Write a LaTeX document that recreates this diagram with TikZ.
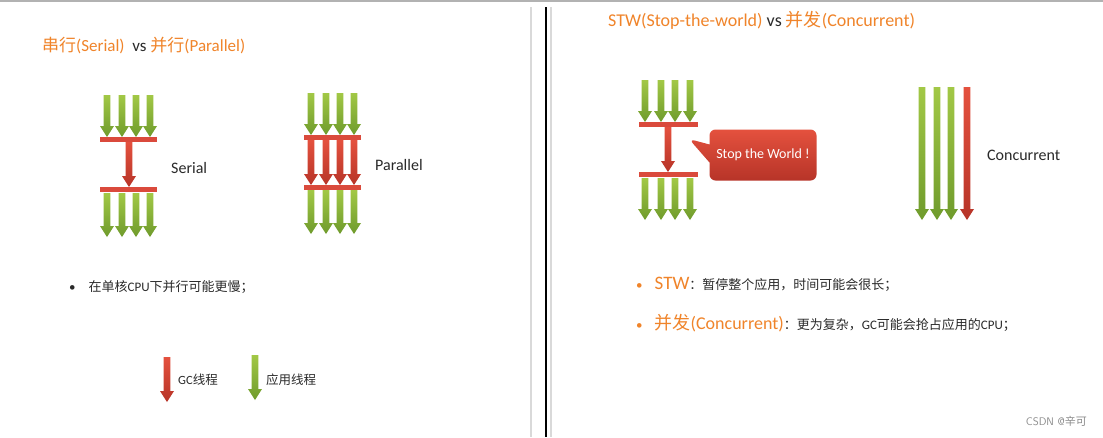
\documentclass[tikz,border=0pt]{standalone}
\usepackage{fontspec}
\setmainfont{Carlito}
\newfontfamily\cjk{Noto Sans CJK SC}
\usetikzlibrary{shapes.callouts}

\definecolor{titleorange}{HTML}{F0842A}
\definecolor{bodytext}{HTML}{2A2A2A}
\definecolor{appgreenA}{HTML}{A2C846}
\definecolor{appgreenB}{HTML}{6F9B2C}
\definecolor{gcredA}{HTML}{E4513E}
\definecolor{gcredB}{HTML}{B73428}
\definecolor{barred}{HTML}{DA4A3C}

\tikzset{
  every node/.style={inner sep=0pt, text=bodytext},
  pics/appline/.style={code={
    \shade[top color=appgreenA, bottom color=appgreenB]
      (-3.4,0) -- (3.4,0) -- (3.4,#1-11) -- (7,#1-11) -- (0,#1)
      -- (-7,#1-11) -- (-3.4,#1-11) -- cycle;}},
  pics/gcline/.style={code={
    \shade[top color=gcredA, bottom color=gcredB]
      (-3.4,0) -- (3.4,0) -- (3.4,#1-11) -- (7,#1-11) -- (0,#1)
      -- (-7,#1-11) -- (-3.4,#1-11) -- cycle;}},
  gcbar/.style={draw=barred, line width=5pt},
  label/.style={anchor=west, font=\fontsize{16}{19}\selectfont},
  heading/.style={anchor=west, text=titleorange, font=\fontsize{17}{20}\selectfont},
  bullet/.style={anchor=west, font=\fontsize{13}{16}\selectfont},
  stopbox/.style={rectangle callout, rounded corners=6pt, minimum width=107pt,
    minimum height=51pt, top color=gcredA, bottom color=gcredB,
    callout pointer width=18pt, text=white, font=\fontsize{14}{17}\selectfont}
}

\begin{document}
\begin{tikzpicture}[x=1pt, y=-1pt]
\useasboundingbox (0,0) rectangle (1103,437);
\fill[white] (0,0) rectangle (1103,437);

% frame and dividers
\draw[black!30, line width=2pt] (0,1) -- (1103,1);
\draw[black!15, line width=2pt] (531,7) -- (531,437);
\draw[black, line width=1.4pt] (546,7) -- (546,437);
\draw[black!15, line width=2pt] (551,7) -- (551,437);

% left half
\node (title1) [heading] at (42,46) {{\cjk 串行}(Serial)\ \ {\color{bodytext}vs} {\cjk 并行}(Parallel)};

% serial
\foreach \x in {107,122,136,150} {
  \pic at (\x,95) {appline=42};
  \pic at (\x,193) {appline=44};
}
\draw[gcbar] (100,139) -- (157,139);
\draw[gcbar] (100,189) -- (157,189);
\pic at (129,142) {gcline=45};
\node (serialLbl) [label] at (171,168) {Serial};

% parallel
\foreach \x in {311,326,340,354} {
  \pic at (\x,93) {appline=42};
  \pic at (\x,140) {gcline=45};
  \pic at (\x,190) {appline=44};
}
\draw[gcbar] (304,137) -- (361,137);
\draw[gcbar] (304,187) -- (361,187);
\node (parallelLbl) [label] at (375,165) {Parallel};

\node (note) [anchor=west, font=\fontsize{13}{16}\selectfont] at (69,287)
  {\textbullet\hspace{13pt}{\cjk 在单核}CPU{\cjk 下并行可能更慢；}};

% legend
\pic at (167,357) {gcline=45};
\node (gcKey) [anchor=west, font=\fontsize{12.5}{15}\selectfont] at (178,380) {GC{\cjk 线程}};
\pic at (255,355) {appline=45};
\node (appKey) [anchor=west, font=\fontsize{12.5}{15}\selectfont] at (266,380) {{\cjk 应用线程}};

% right half
\node (title2) [heading, font=\fontsize{18}{21}\selectfont] at (608,20) {STW(Stop-the-world) {\color{bodytext}vs} {\cjk 并发}(Concurrent)};

% stop the world
\foreach \x in {645,661,675,690} {
  \pic at (\x,80) {appline=42};
  \pic at (\x,178) {appline=42};
}
\draw[gcbar] (639,124) -- (698,124);
\draw[gcbar] (639,174) -- (698,174);
\pic at (668,127) {gcline=45};
\node (stw) [stopbox, callout absolute pointer={(689,139)}] at (763,155) {Stop the World !};

% concurrent
\foreach \x in {922,937,951} {
  \pic at (\x,87) {appline=133};
}
\pic at (967,87) {gcline=133};
\node (concLbl) [label] at (987,155) {Concurrent};

\node (stwNote) [bullet] at (636,284)
  {{\color{titleorange}\textbullet}\hspace{12pt}{\color{titleorange}\fontsize{19}{22}\selectfont STW}{\cjk ：暂停整个应用，时间可能会很长；}};
\node (concNote) [bullet] at (636,323)
  {{\color{titleorange}\textbullet}\hspace{12pt}{\color{titleorange}\fontsize{18}{22}\selectfont{\cjk 并发}(Concurrent)}{\cjk ：更为复杂，}GC{\cjk 可能会抢占应用的}CPU{\cjk ；}};

\node (mark) [anchor=east, text=black!45, font=\sffamily\fontsize{11}{13}\selectfont] at (1087,421) {CSDN @{\cjk 辛可}};
\end{tikzpicture}
\end{document}
